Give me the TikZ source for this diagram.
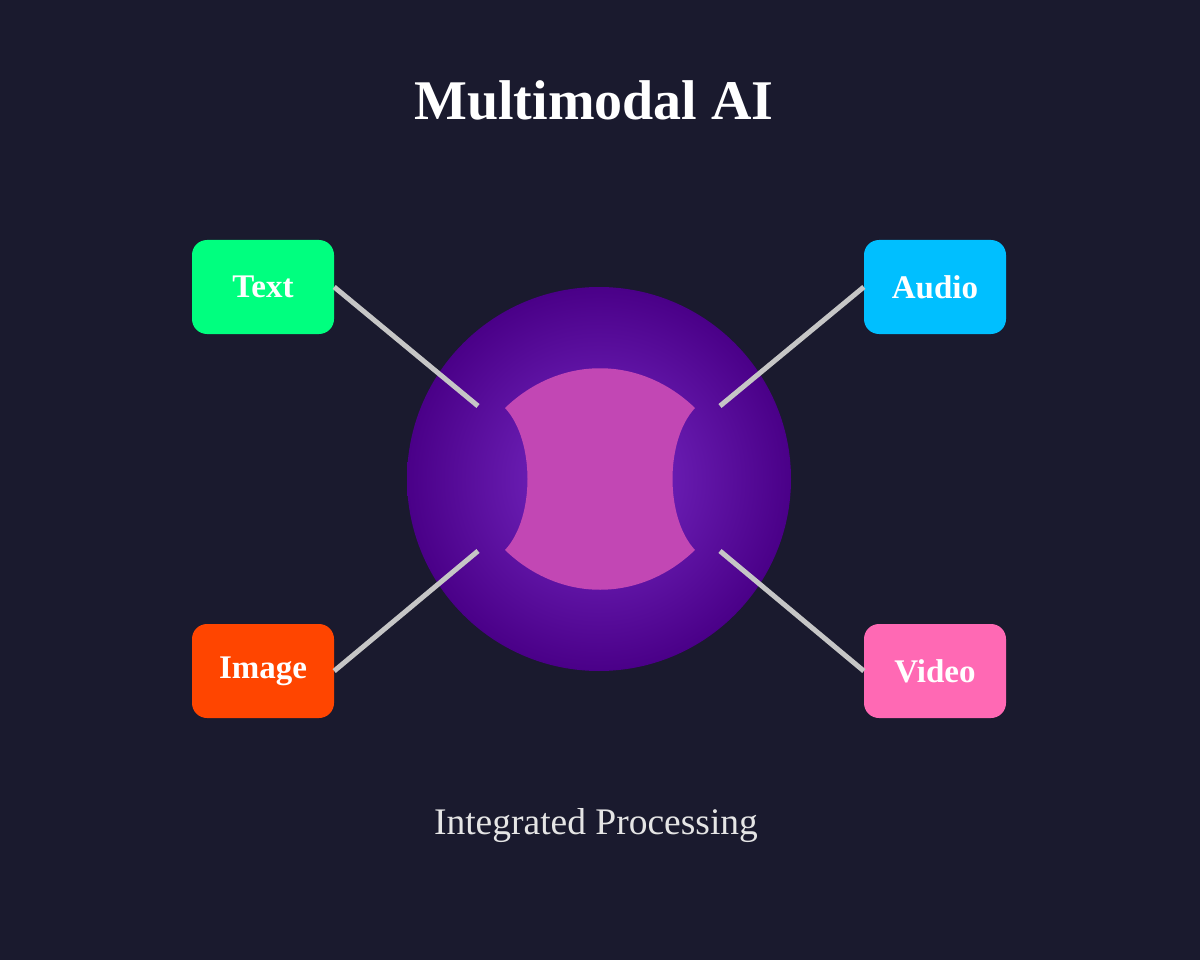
\documentclass[tikz,border=0pt]{standalone}
\usepackage{fontspec}
\setmainfont{Liberation Serif}
\begin{document}
\begin{tikzpicture}[x=1pt,y=-1pt,
  box/.style={rounded corners=15pt,minimum width=142pt,minimum height=94pt,inner sep=0pt,font=\bfseries\fontsize{33}{36}\selectfont,text=white},
  conn/.style={line width=5pt,color=white!55!gray}]
\definecolor{bg}{HTML}{1A1A2E}
\definecolor{cin}{HTML}{7A2CC8}
\definecolor{cout}{HTML}{4A0088}
\definecolor{pink}{HTML}{C247B4}
\fill[bg] (0,0) rectangle (1200,960);
\useasboundingbox (0,0) rectangle (1200,960);
\node[font=\bfseries\fontsize{56}{60}\selectfont,text=white] (title) at (594,100) {Multimodal AI};
\shade[inner color=cin,outer color=cout] (599,479) circle (192pt);
\fill[pink] (505,408) .. controls (560,355) and (640,355) .. (695,408)
  .. controls (665,440) and (665,518) .. (695,550)
  .. controls (640,603) and (560,603) .. (505,550)
  .. controls (535,518) and (535,440) .. (505,408) -- cycle;
\coordinate (c1) at (478,406);
\coordinate (c2) at (720,406);
\coordinate (c3) at (478,551);
\coordinate (c4) at (720,551);
\node[box,fill={rgb,255:red,0;green,255;blue,127}] (text) at (263,287) {Text};
\node[box,fill={rgb,255:red,0;green,191;blue,255}] (audio) at (935,287) {Audio};
\node[box,fill={rgb,255:red,255;green,69;blue,0}] (image) at (263,671) {Image};
\node[box,fill={rgb,255:red,255;green,105;blue,180}] (video) at (935,671) {Video};
\draw[conn] (text.east) -- (c1);
\draw[conn] (audio.west) -- (c2);
\draw[conn] (image.east) -- (c3);
\draw[conn] (video.west) -- (c4);
\node[font=\fontsize{37.5}{40}\selectfont,text=white!80!gray] (sub) at (596,826) {Integrated Processing};
\end{tikzpicture}
\end{document}
